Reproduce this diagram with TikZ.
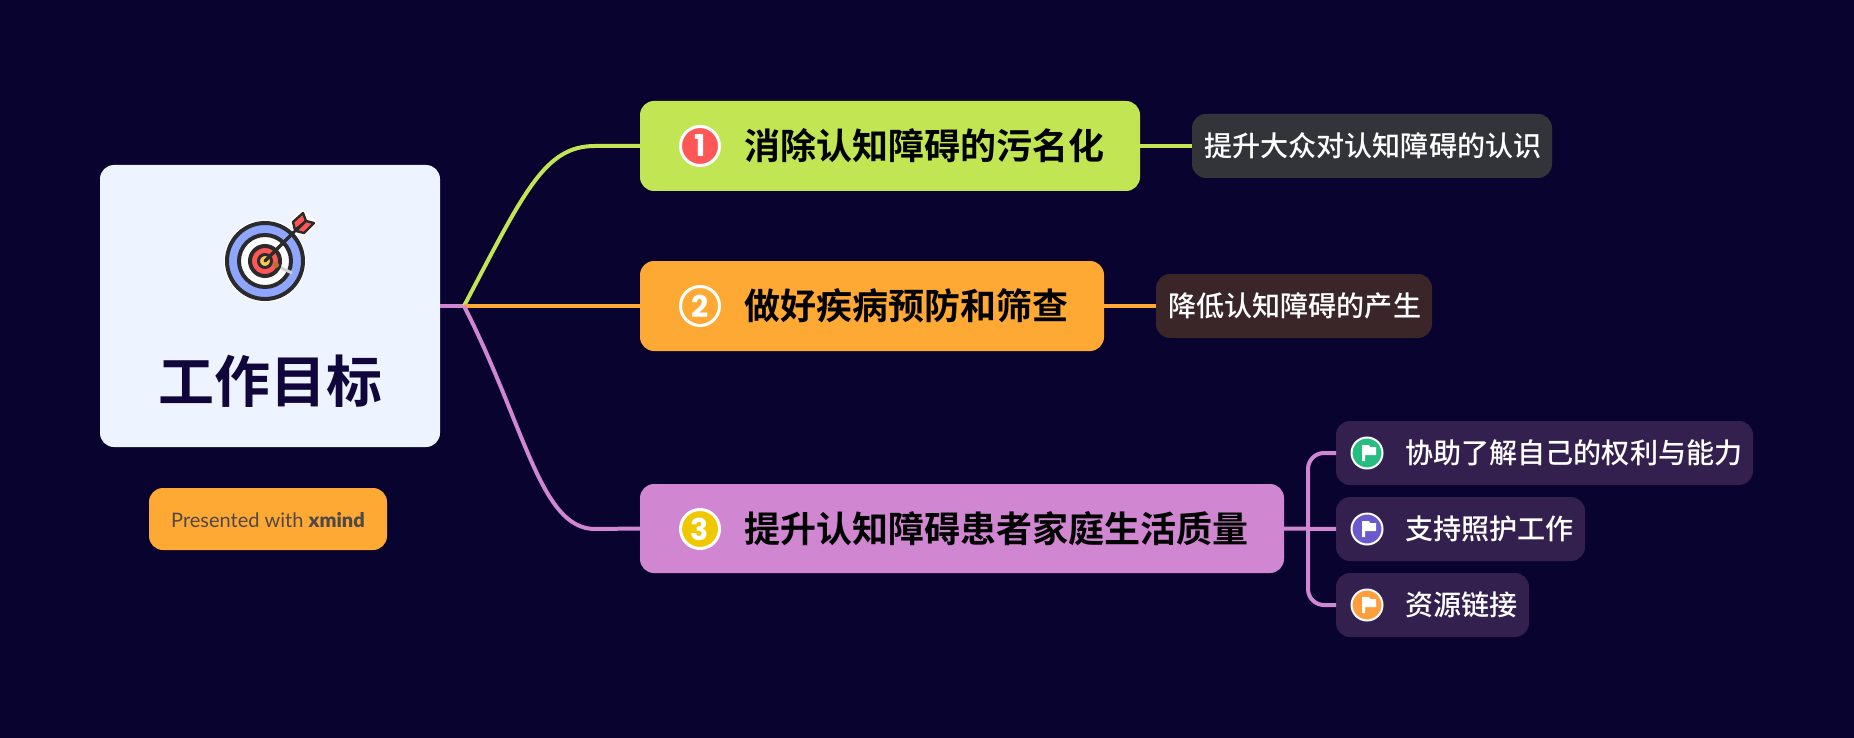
\documentclass[tikz,border=0pt]{standalone}
\usepackage{fontspec}
\setmainfont{Noto Sans CJK SC}
\newfontfamily\cjkb{Noto Sans CJK SC Bold}
\newfontfamily\cjkm{Noto Sans CJK SC Medium}
\newfontfamily\latinf{Lato}
\newfontfamily\digitf{Poppins Bold}
\definecolor{bgc}{HTML}{08032F}
\definecolor{cardc}{HTML}{EEF4FF}
\definecolor{greenc}{HTML}{C2E653}
\definecolor{orangec}{HTML}{FFA935}
\definecolor{purplec}{HTML}{D186D2}
\definecolor{subg}{HTML}{33333A}
\definecolor{subo}{HTML}{3A2528}
\definecolor{subp}{HTML}{33204E}
\definecolor{inkc}{HTML}{2B2B2B}
\definecolor{redc}{RGB}{255,86,86}
\definecolor{ringblue}{RGB}{142,166,255}
\definecolor{bullseye}{RGB}{250,200,80}
\definecolor{stainc}{RGB}{190,110,50}
\definecolor{titleink}{RGB}{16,6,60}
\definecolor{badgeink}{RGB}{80,72,70}
\definecolor{goldc}{RGB}{240,200,0}
\definecolor{flaggreen}{RGB}{38,190,128}
\definecolor{flagviolet}{RGB}{106,90,205}
\definecolor{flagorange}{RGB}{255,158,60}
\tikzset{
  boxn/.style={rectangle,rounded corners=#1,inner sep=0pt,outer sep=0pt,anchor=north west},
  mainlabel/.style={anchor=west,inner sep=0pt,text=black,font=\cjkb\fontsize{36}{36}\selectfont},
  sublabel/.style={anchor=west,inner sep=0pt,text=white,font=\cjkm\fontsize{28.1}{28}\selectfont},
  numdot/.style={circle,draw=white,line width=3pt,minimum size=39pt,inner sep=0pt,text=white,font=\digitf\fontsize{30}{30}\selectfont},
  flagdot/.style={circle,draw=white,line width=2pt,minimum size=31pt,inner sep=0pt},
  link/.style={line width=4pt,line cap=butt},
  ring/.style={draw=inkc,line width=4pt},
  feather/.style={draw=inkc,fill=redc,line width=2.4pt,line join=round}
}
\usetikzlibrary{calc}
\newcommand{\flagicon}[1]{\fill[white] ($(#1)+(-5,-8)$) -- ($(#1)+(2,-8)$) -- ($(#1)+(3,-6)$) -- ($(#1)+(9,-6)$) -- ($(#1)+(9,2)$) -- ($(#1)+(-2,2)$) -- ($(#1)+(-2,8)$) -- ($(#1)+(-5,8)$) -- cycle;}
\begin{document}
\begin{tikzpicture}[x=1pt,y=-1pt]
\useasboundingbox[fill=bgc] (0,0) rectangle (1854,738);
% boxes
\node[boxn=14pt,fill=cardc,minimum width=340pt,minimum height=282pt] (root) at (100,165) {};
\node[boxn=14pt,fill=orangec,minimum width=238pt,minimum height=62pt] (badge) at (149,488) {};
\node[boxn=14pt,fill=greenc,minimum width=500pt,minimum height=90pt] (m1) at (640,101) {};
\node[boxn=14pt,fill=orangec,minimum width=464pt,minimum height=90pt] (m2) at (640,261) {};
\node[boxn=14pt,fill=purplec,minimum width=644pt,minimum height=89pt] (m3) at (640,484) {};
\node[boxn=14pt,fill=subg,minimum width=360pt,minimum height=64pt] (s1) at (1192,114) {};
\node[boxn=14pt,fill=subo,minimum width=276pt,minimum height=64pt] (s2) at (1156,274) {};
\node[boxn=14pt,fill=subp,minimum width=417pt,minimum height=64pt] (t1) at (1336,421) {};
\node[boxn=14pt,fill=subp,minimum width=249pt,minimum height=64pt] (t2) at (1336,497) {};
\node[boxn=14pt,fill=subp,minimum width=193pt,minimum height=64pt] (t3) at (1336,573) {};
% connectors
\coordinate (hub) at (464,306);
\coordinate (hub3) at (1308,529);
\draw[link,purplec] (root.east) -- (hub);
\draw[link,greenc] (hub) .. controls (525,190) and (545,146) .. (595,146) -- (m1.west);
\draw[link,orangec] (hub) -- (m2.west);
\draw[link,purplec] (hub) .. controls (525,425) and (540,529) .. (595,529) -- (m3.west);
\draw[link,greenc] (m1.east) -- (s1.west);
\draw[link,orangec] (m2.east) -- (s2.west);
\draw[link,purplec] (m3.east) -- (t2.west);
\draw[link,purplec,rounded corners=16pt] (t1.west) -| (hub3) |- (t3.west);
% target icon
\begin{scope}[shift={(265,261)}]
  \fill[white] (0,0) circle (41);
  \draw[white,line width=9pt] (0,0) -- (34,-34);
  \fill[ringblue] (0,0) circle (37);
  \draw[ring] (0,0) circle (38);
  \filldraw[ring,fill=white] (0,0) circle (26);
  \draw[line width=3pt,gray!35] (12,5) -- (27,12);
  \filldraw[ring,fill=redc] (0,0) circle (15);
  \fill[stainc] (11,4) circle (3);
  \filldraw[ring,line width=3pt,fill=bullseye] (0,0) circle (6.5);
  \draw[inkc,line width=3.4pt,line cap=round] (0,0) -- (31,-31);
  \draw[white,line width=6pt,line join=round] (30,-31) -- (28,-39) -- (38,-48) -- (49,-38) -- (39,-28) -- (31,-30);
  \filldraw[feather] (30,-31) -- (28,-39) -- (38,-48) -- (41,-40) -- cycle;
  \filldraw[feather] (31,-30) -- (39,-28) -- (49,-38) -- (41,-40) -- cycle;
\end{scope}
% texts
\node[anchor=center,inner sep=0pt,text=titleink,font=\cjkb\fontsize{56}{56}\selectfont] (rootlabel) at (270,381) {工作目标};
\node[anchor=center,inner sep=0pt,text=badgeink,font=\latinf\fontsize{20}{20}\selectfont] (badgelabel) at (268,520) {Presented with {\fontspec{Lato Black}xmind}};
\node[numdot,fill=redc] (n1) at (700,146) {1};
\node[numdot,fill=orangec] (n2) at (700,306) {2};
\node[numdot,fill=goldc] (n3) at (700,529) {3};
\node[mainlabel] (l1) at (744,146) {消除认知障碍的污名化};
\node[mainlabel] (l2) at (744,306) {做好疾病预防和筛查};
\node[mainlabel] (l3) at (744,529) {提升认知障碍患者家庭生活质量};
\node[sublabel] (sl1) at (1204,146) {提升大众对认知障碍的认识};
\node[sublabel] (sl2) at (1168,306) {降低认知障碍的产生};
\node[flagdot,fill=flaggreen] (f1) at (1367,453) {};
\node[flagdot,fill=flagviolet] (f2) at (1367,529) {};
\node[flagdot,fill=flagorange] (f3) at (1367,605) {};
\flagicon{f1}
\flagicon{f2}
\flagicon{f3}
\node[sublabel] (tl1) at (1405,453) {协助了解自己的权利与能力};
\node[sublabel] (tl2) at (1405,529) {支持照护工作};
\node[sublabel] (tl3) at (1405,605) {资源链接};
\end{tikzpicture}
\end{document}
